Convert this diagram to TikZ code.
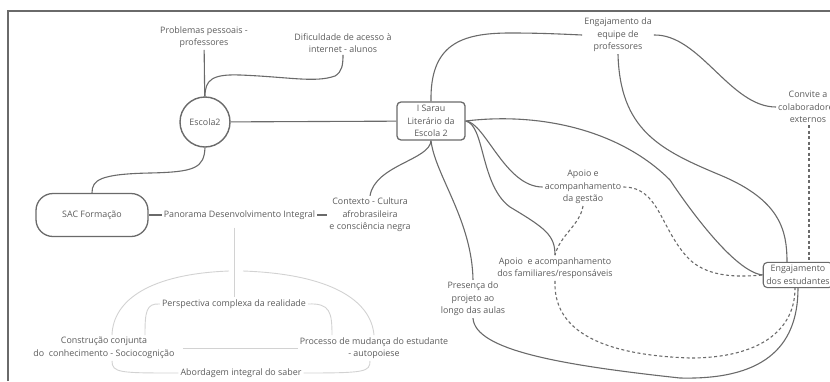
\documentclass[tikz,border=0pt]{standalone}
\usepackage{fontspec}
\setmainfont{Open Sans}
\usetikzlibrary{positioning}
\definecolor{txtgray}{HTML}{5C5C5C}
\definecolor{linegray}{HTML}{6A6A6A}
\definecolor{softgray}{HTML}{D2D2D2}

\begin{document}
\begin{tikzpicture}[x=1pt, y=-1pt,
  every node/.style={font=\fontsize{8.9}{12.5}\selectfont, text=txtgray, align=center, inner sep=2pt},
  link/.style={draw=linegray, line width=1.1pt},
  dlink/.style={link, dash pattern=on 3pt off 2.5pt},
  soft/.style={draw=softgray, line width=0.9pt},
  rbox/.style={draw=linegray, line width=1.3pt, rounded corners=4pt, inner sep=3pt}]
\useasboundingbox (0,0) rectangle (830,381);
\draw[linegray, line width=1.2pt] (8,381) -- (8,11) -- (830,11);

\node[circle, draw=linegray, line width=1.4pt, minimum size=50pt] (esc) at (205,122) {Escola2};
\node (prob) at (204,37) {Problemas pessoais -\\professores};
\node (dif) at (343,43) {Dificuldade de acesso à\\internet - alunos};
\node[rbox, minimum width=68pt, minimum height=38pt] (sarau) at (431,121) {I Sarau\\Literário da\\Escola 2};
\node[rbox, rounded corners=17pt, minimum width=112pt, minimum height=43pt] (sac) at (92,215) {SAC Formação};
\node[right=13pt of sac] (pan) {Panorama Desenvolvimento Integral};
\node[right=10pt of pan] (ctx) {Contexto - Cultura\\afrobrasileira\\e consciência negra};
\node (persp) at (234,304) {Perspectiva complexa da realidade};
\node (cons) at (104,348) {Construção conjunta\\do\ \ conhecimento - Sociocognição};
\node (proc) at (374,348) {Processo de mudança do estudante\\- autopoiese};
\node (abord) at (241,373) {Abordagem integral do saber};
\node (engprof) at (618,35) {Engajamento da\\equipe de\\professores};
\node (conv) at (808,107) {Convite a\\colaboradores\\externos};
\node (apg) at (583,187) {Apoio e\\acompanhamento\\da gestão};
\node (apf) at (555,268) {Apoio\ \ e acompanhamento\\dos familiares/responsáveis};
\node (pres) at (473,299) {Presença do\\projeto ao\\longo das aulas};
\node[rbox, line width=1.1pt] (enge) at (798,275) {Engajamento\\dos estudantes};

\draw[link] (prob) -- (esc);
\draw[link] (esc.north) .. controls (205,80) and (212,74) .. (240,75) .. controls (290,77) and (315,83) .. (335,76) .. controls (342,72) and (343,65) .. (dif.south);
\draw[link] (esc) -- (sarau);
\draw[link] (esc.south) .. controls (204,168) and (195,172) .. (150,173) .. controls (100,174) and (92,180) .. (sac.north);
\draw[link] (sac) -- (pan);
\draw[link] (pan) -- (ctx);
\draw[link] (sarau.south) .. controls (430,160) and (375,165) .. (ctx.north);
\draw[link] (sarau.south) .. controls (435,175) and (472,220) .. (pres.north);

\draw[soft, shorten <=6pt] (pan.south -| persp.north) -- (persp.north);
\coordinate (forkL) at (229,271);
\coordinate (forkR) at (243,271);
\draw[soft] (forkL) .. controls (150,274) and (113,300) .. ([xshift=8pt]cons.north);
\draw[soft] (forkR) .. controls (330,274) and (371,300) .. (proc.north);
\draw[soft] (persp.west) .. controls (146,303) and (145,312) .. ([xshift=41pt]cons.north);
\draw[soft] (persp.east) .. controls (330,303) and (332,312) .. ([xshift=-42pt]proc.north);
\draw[soft, shorten <=6pt] (cons.east) -- (proc.west);
\draw[soft] ([xshift=8pt]cons.south) .. controls (112,373) and (120,373) .. (abord.west);
\draw[soft] (abord.east) .. controls (365,373) and (370,372) .. ([xshift=-4pt]proc.south);

\draw[link] (sarau.north) .. controls (430,45) and (460,33) .. (510,33) .. controls (540,33) and (560,34) .. (engprof.west);
\draw[link] (engprof.east) .. controls (700,34) and (730,107) .. (conv.west);
\draw[dlink] ([xshift=1pt]conv.south) -- ([xshift=1pt]conv.south |- enge.north);
\draw[link] (engprof.south) .. controls (620,130) and (660,150) .. (720,175) .. controls (780,200) and (787,230) .. ([xshift=-11pt]enge.north);
\draw[link] (sarau.east) .. controls (540,112) and (620,130) .. (670,180) .. controls (690,210) and (735,272) .. (enge.west);
\draw[link] (sarau.east) .. controls (485,122) and (505,187) .. (apg.west);
\draw[link] (sarau.east) .. controls (485,125) and (480,185) .. (510,207) .. controls (545,228) and (555,235) .. (apf.north);
\draw[dlink] (apg.south) .. controls (580,225) and (560,235) .. (apf.north);
\draw[dlink] (apg.east) .. controls (660,187) and (660,230) .. (690,260) .. controls (710,278) and (740,277) .. (enge.west);
\draw[dlink] (apf.south) .. controls (553,330) and (600,355) .. (690,358) .. controls (760,358) and (795,330) .. ([xshift=-3pt]enge.south);
\draw[link] (pres.south) .. controls (475,350) and (560,365) .. (680,378) .. controls (760,380) and (798,350) .. (enge.south);
\end{tikzpicture}
\end{document}
